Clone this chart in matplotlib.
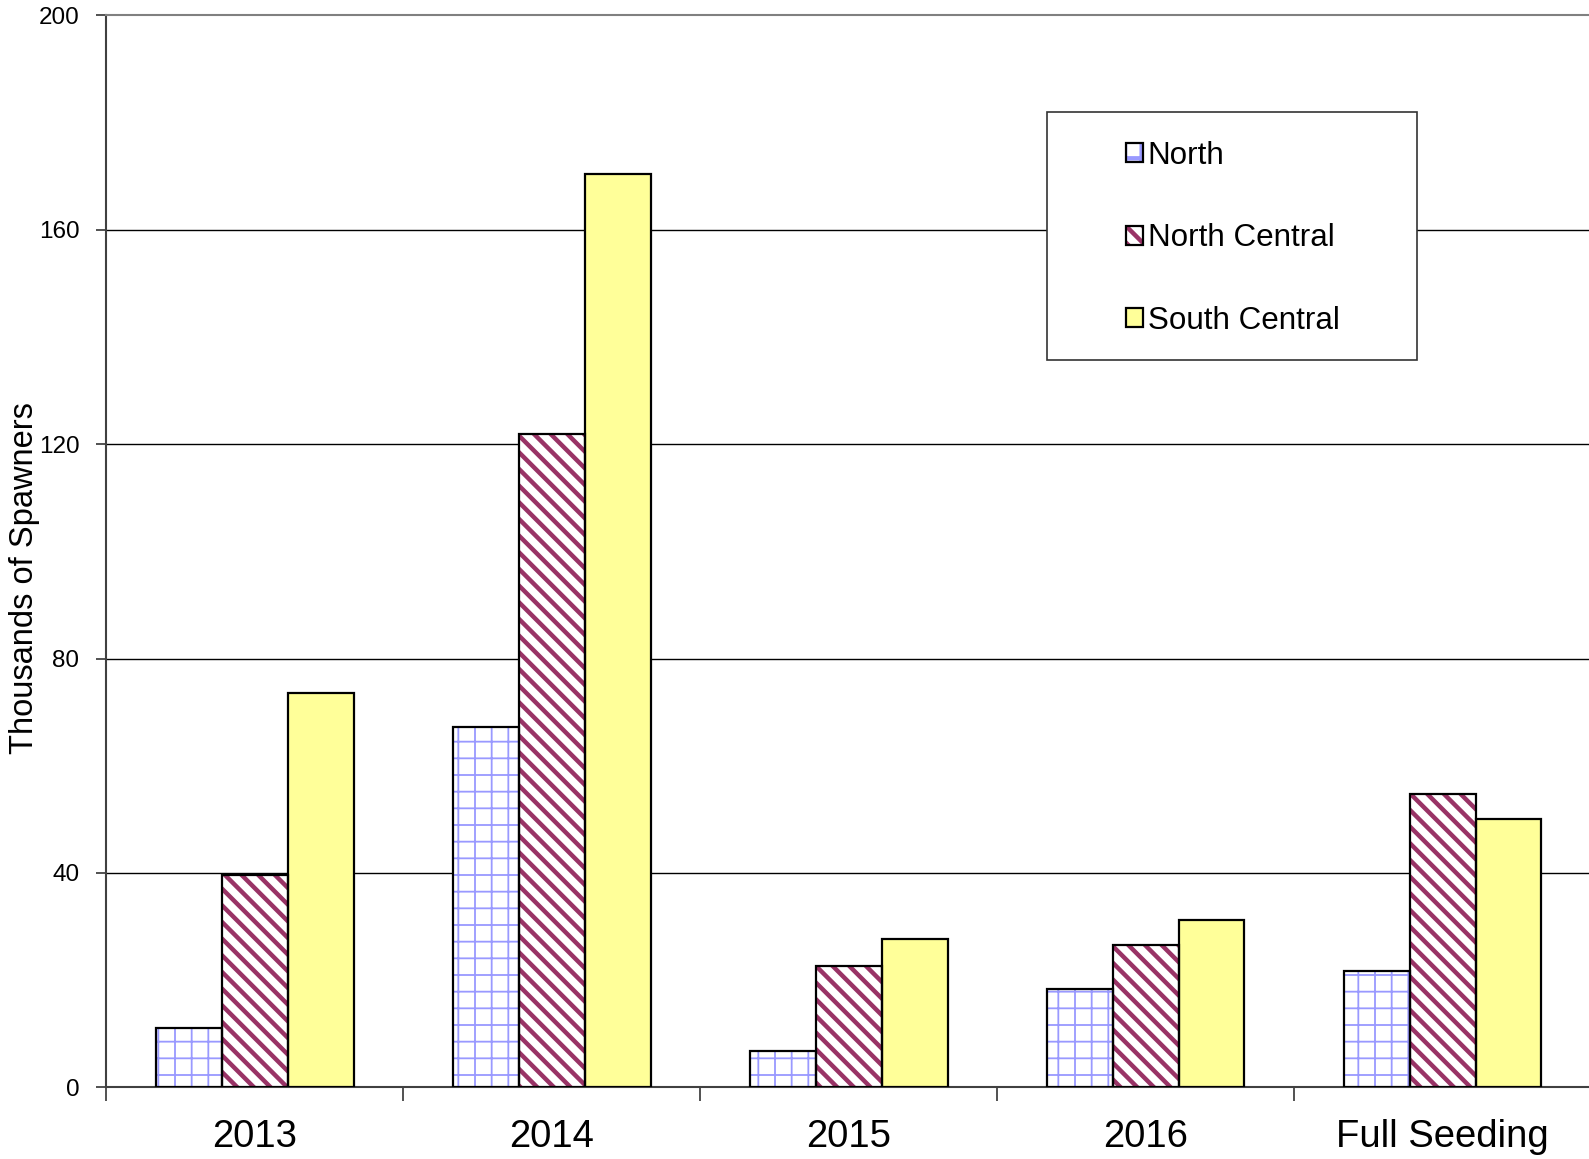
import numpy as np
import matplotlib.pyplot as plt
from matplotlib.patches import Rectangle, Patch
from matplotlib.legend_handler import HandlerTuple

plt.rcParams['font.family'] = ['Liberation Sans', 'DejaVu Sans']

# data (thousands of spawners)
categories = ["2013", "2014", "2015", "2016", "Full Seeding"]
series = ["North", "North Central", "South Central"]
north = [11.0, 67.3, 6.7, 18.3, 21.7]
north_central = [39.7, 121.9, 22.7, 26.5, 54.8]
south_central = [73.5, 170.3, 27.6, 31.2, 50.1]

values = [north, north_central, south_central]
hatches = ['+', '\\\\', None]
hatch_cols = ['#9999FF', '#993366', None]
hatch_lws = [1.3, 3.2, None]
fills = ['white', 'white', '#FFFF99']

fig = plt.figure(figsize=(15.89, 11.59), dpi=100)
ax = fig.add_axes([0.06696, 0.06178, 0.9343, 0.9251])

x = np.arange(len(categories))
w = 0.222
handles = []
for i, name in enumerate(series):
    pos = x + (i - 1) * w
    if hatches[i]:
        plt.rcParams['hatch.linewidth'] = hatch_lws[i]
        hb = ax.bar(pos, values[i], w, color=fills[i], edgecolor=hatch_cols[i],
                    hatch=hatches[i], linewidth=0, zorder=3)
        for p in hb:
            if hasattr(p, 'set_hatch_linewidth'):
                p.set_hatch_linewidth(hatch_lws[i])
        hp = Patch(facecolor=fills[i], edgecolor=hatch_cols[i], hatch=hatches[i], linewidth=0)
        if hasattr(hp, 'set_hatch_linewidth'):
            hp.set_hatch_linewidth(hatch_lws[i])
    else:
        ax.bar(pos, values[i], w, color=fills[i], linewidth=0, zorder=3)
        hp = Patch(facecolor=fills[i], linewidth=0)
    ax.bar(pos, values[i], w, fill=False, edgecolor='black', linewidth=1.6, zorder=4)
    op = Patch(fill=False, edgecolor='black', linewidth=1.6)
    handles.append((hp, op))

ax.set_xlim(-0.5, 4.5)
ax.set_ylim(0, 200)
ax.set_yticks([0, 40, 80, 120, 160, 200])
ax.set_xticks(x)
ax.set_xticklabels(categories, fontsize=27.5)
ax.set_xticks(np.arange(-0.5, 5, 1), minor=True)
ax.tick_params(axis='x', which='major', length=0, pad=23)
ax.tick_params(axis='x', which='minor', length=10, width=1.2, direction='out', color='#333333')
ax.tick_params(axis='y', length=7, width=1.2, direction='out', pad=12.5, labelsize=17.5, color='#333333')
ax.set_ylabel("Thousands of Spawners", fontsize=23.5)
ax.yaxis.set_label_coords(-0.045, 0.4754)

for yv in [40, 80, 120, 160]:
    ax.axhline(yv, color='black', linewidth=1.0, zorder=1)

ax.spines['right'].set_visible(False)
ax.spines['top'].set_color('#808080')
ax.spines['top'].set_linewidth(1.5)
ax.spines['left'].set_color('#404040')
ax.spines['left'].set_linewidth(1.5)
ax.spines['bottom'].set_color('#404040')
ax.spines['bottom'].set_linewidth(1.5)

# legend box
box = Rectangle((0.6336, 0.6784), 0.8828 - 0.6336, 0.9093 - 0.6784, transform=ax.transAxes,
                facecolor='white', edgecolor='#333333', linewidth=1.2, zorder=5)
ax.add_patch(box)
leg = ax.legend(handles, series, handler_map={tuple: HandlerTuple(ndivide=1)},
                loc='upper left', bbox_to_anchor=(0.676, 0.8975), frameon=False,
                fontsize=22.6, borderpad=0, handlelength=0.55, handleheight=0.55,
                handletextpad=0.15, labelspacing=1.67)
leg.set_zorder(6)

fig.savefig("out.png", dpi=100)
